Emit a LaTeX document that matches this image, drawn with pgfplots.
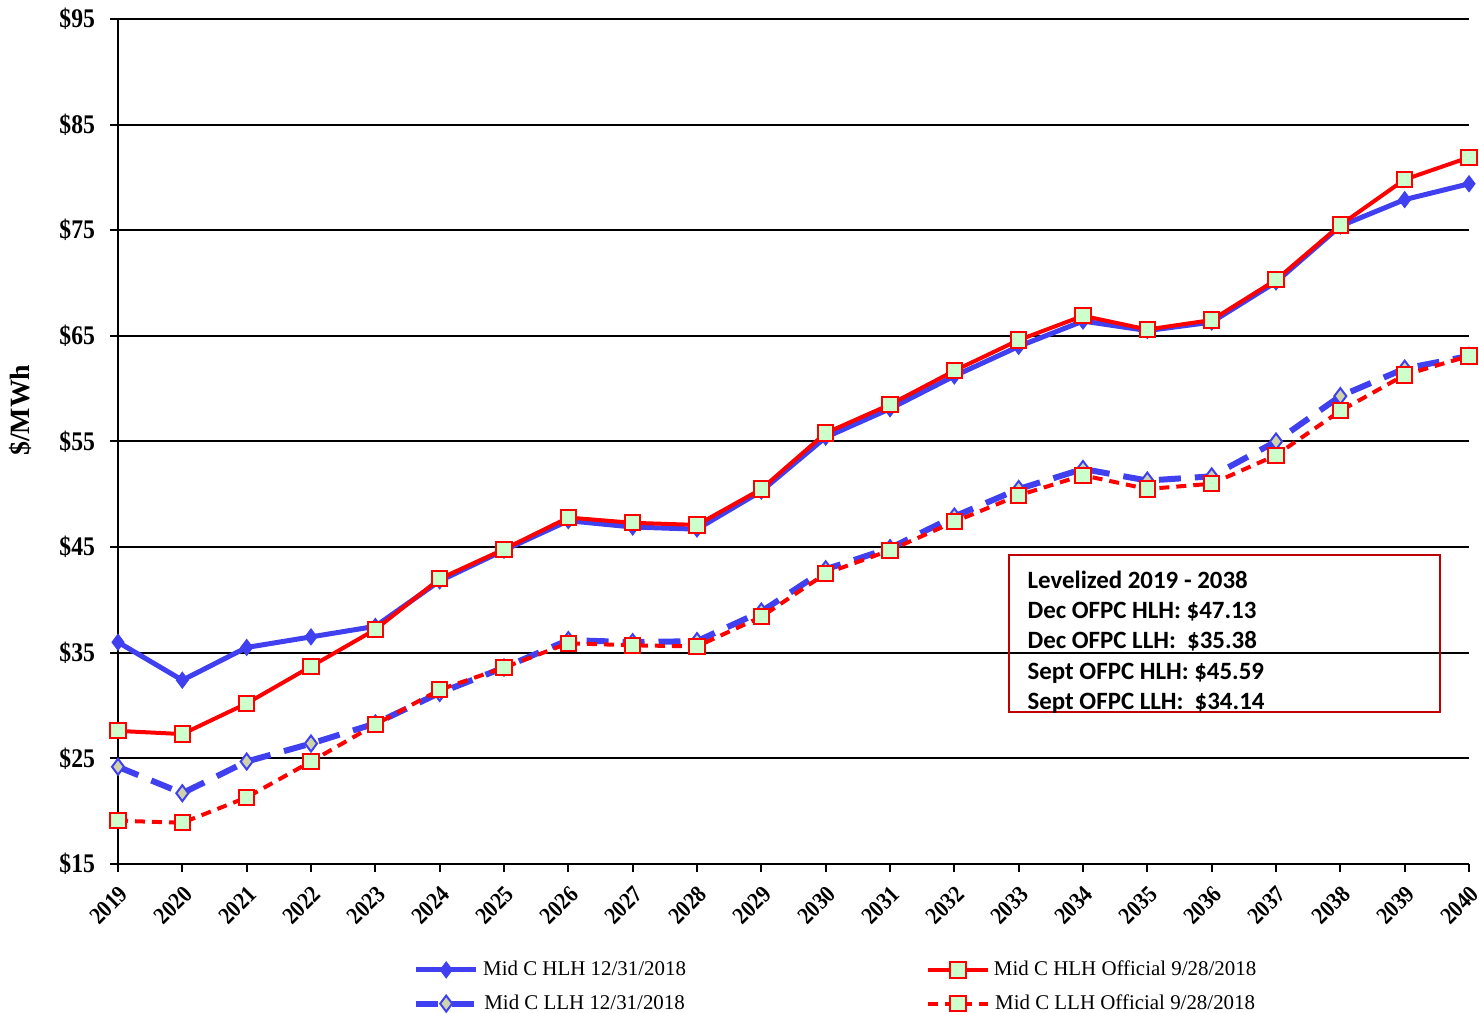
\documentclass[border=0pt]{standalone}
\usepackage{pgfplots}
\pgfplotsset{compat=1.18}
\usepackage{fontspec}
\setmainfont{Liberation Serif}
\newfontfamily\calibri{Carlito}
\newfontfamily\narrowserif[FakeStretch=0.88]{Liberation Serif}

\definecolor{lineblue}{RGB}{64,64,240}
\definecolor{markgreen}{RGB}{204,255,204}
\definecolor{markkhaki}{RGB}{206,212,170}
\definecolor{boxred}{RGB}{192,0,0}

\begin{document}
\begin{tikzpicture}
\begin{axis}[
  name=ax,
  scale only axis,
  width=675.5bp, height=422.5bp,
  xmin=2019, xmax=2040,
  ymin=15, ymax=95,
  xtick={2019,2020,...,2040},
  ytick={15,25,...,95},
  axis x line*=bottom,
  axis y line*=left,
  axis line style={black, line width=1.25bp},
  tick align=outside,
  major tick length=4bp,
  tick style={black, line width=1bp},
  ymajorgrids=true,
  grid style={black, line width=1bp},
  clip=false,
  /pgf/number format/assume math mode=true,
  /pgf/number format/set thousands separator={},
  yticklabel={\$\pgfmathprintnumber{\tick}},
  y tick label style={font=\narrowserif\bfseries\fontsize{13.5}{13.5}\selectfont, xshift=-4bp},
  x tick label style={font=\narrowserif\bfseries\fontsize{12}{12}\selectfont, rotate=45, anchor=north east,
    inner sep=0.3pt, yshift=-4bp, xshift=-4bp},
  ylabel={\$/MWh},
  ylabel style={font=\bfseries\fontsize{14}{14}\selectfont, at={(axis description cs:-0.0725,0.537)}, anchor=center, rotate=0},
  legend columns=2,
  legend style={draw=none, at={(0.532,-0.105)}, anchor=north,
    font=\fontsize{10.5}{12}\selectfont, row sep=4bp,
    /tikz/every even column/.append style={column sep=118bp}},
  legend image code/.code={%
    \draw[mark repeat=2, mark phase=2] plot coordinates {(0bp,0bp) (15bp,0bp) (30bp,0bp)};},
]
% Mid C HLH 12/31/2018
\addplot[color=lineblue, line width=2.5bp, mark=diamond*, mark size=4bp,
  mark options={solid, fill=lineblue, draw=lineblue, line width=0.5bp}]
  coordinates {(2019,36.0)(2020,32.4)(2021,35.5)(2022,36.5)(2023,37.5)(2024,41.8)
  (2025,44.7)(2026,47.5)(2027,46.9)(2028,46.7)(2029,50.3)(2030,55.4)(2031,58.1)
  (2032,61.2)(2033,64.0)(2034,66.4)(2035,65.5)(2036,66.3)(2037,70.1)(2038,75.4)
  (2039,77.9)(2040,79.4)};
\addlegendentry{Mid C HLH 12/31/2018}
% Mid C HLH Official 9/28/2018
\addplot[color=red, line width=2bp, mark=square*, mark size=3.8bp,
  mark options={solid, fill=markgreen, draw=red, line width=1bp}]
  coordinates {(2019,27.6)(2020,27.3)(2021,30.2)(2022,33.7)(2023,37.2)(2024,42.0)
  (2025,44.8)(2026,47.8)(2027,47.3)(2028,47.1)(2029,50.5)(2030,55.8)(2031,58.5)
  (2032,61.7)(2033,64.6)(2034,66.9)(2035,65.6)(2036,66.5)(2037,70.3)(2038,75.5)
  (2039,79.8)(2040,81.9)};
\addlegendentry{Mid C HLH Official 9/28/2018}
% Mid C LLH 12/31/2018
\addplot[color=lineblue, line width=3bp, dash pattern=on 11bp off 7bp, mark=diamond*, mark size=4bp,
  mark options={solid, fill=markkhaki, draw=lineblue, line width=1bp}]
  coordinates {(2019,24.2)(2020,21.7)(2021,24.7)(2022,26.4)(2023,28.3)(2024,31.2)
  (2025,33.6)(2026,36.2)(2027,36.0)(2028,36.1)(2029,38.9)(2030,42.9)(2031,44.9)
  (2032,47.9)(2033,50.5)(2034,52.4)(2035,51.3)(2036,51.7)(2037,55.0)(2038,59.3)
  (2039,61.9)(2040,63.1)};
\addlegendentry{Mid C LLH 12/31/2018}
% Mid C LLH Official 9/28/2018
\addplot[color=red, line width=2bp, dash pattern=on 5bp off 3.5bp, mark=square*, mark size=3.8bp,
  mark options={solid, fill=markgreen, draw=red, line width=1bp}]
  coordinates {(2019,19.1)(2020,18.9)(2021,21.3)(2022,24.7)(2023,28.2)(2024,31.5)
  (2025,33.6)(2026,35.9)(2027,35.7)(2028,35.6)(2029,38.4)(2030,42.5)(2031,44.7)
  (2032,47.4)(2033,49.9)(2034,51.8)(2035,50.5)(2036,51.0)(2037,53.7)(2038,57.9)
  (2039,61.3)(2040,63.1)};
\addlegendentry{Mid C LLH Official 9/28/2018}

% levelized summary box
\draw[boxred, line width=1.2bp] (rel axis cs:0.6595,0.3656) rectangle (rel axis cs:0.9785,0.1799);
\node[anchor=north west, align=left, inner sep=0pt,
  font=\calibri\bfseries\fontsize{12.5}{15.25}\selectfont]
  at (rel axis cs:0.673,0.3475)
  {Levelized 2019 - 2038\\
   Dec OFPC HLH: \$47.13\\
   Dec OFPC LLH:\ \ \$35.38\\
   Sept OFPC HLH: \$45.59\\
   Sept OFPC LLH:\ \ \$34.14};
\end{axis}
\pgfresetboundingbox
\path[use as bounding box] ([shift={(-59bp,-74.5bp)}]ax.south west) rectangle ([shift={(5bp,9.5bp)}]ax.north east);
\end{tikzpicture}
\end{document}
